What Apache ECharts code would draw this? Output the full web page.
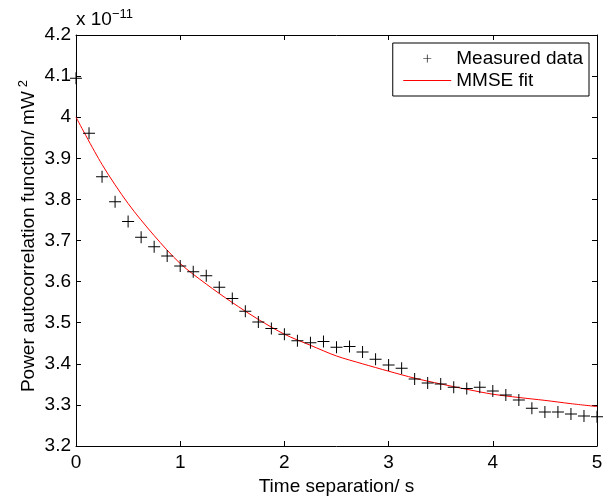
<!DOCTYPE html>
<html>
<head>
<meta charset="utf-8">
<script src="https://cdn.jsdelivr.net/npm/echarts@6/dist/echarts.min.js"></script>
<style>
  html, body { margin: 0; padding: 0; background: #fff; }
  #chart { width: 608px; height: 496px; }
</style>
</head>
<body>
<div id="chart"></div>
<script>
// measured autocorrelation (units of 1e-11 mW^2)
var measuredTime = [0, 0.125, 0.25, 0.375, 0.5, 0.625, 0.75, 0.875, 1, 1.125,
  1.25, 1.375, 1.5, 1.625, 1.75, 1.875, 2, 2.125, 2.25, 2.375,
  2.5, 2.625, 2.75, 2.875, 3, 3.125, 3.25, 3.375, 3.5, 3.625,
  3.75, 3.875, 4, 4.125, 4.25, 4.375, 4.5, 4.625, 4.75, 4.875, 5];
var measuredValue = [4.095, 3.961, 3.855, 3.794, 3.746, 3.708, 3.685, 3.662, 3.638, 3.624,
  3.614, 3.586, 3.559, 3.528, 3.502, 3.486, 3.472, 3.456, 3.451, 3.454,
  3.440, 3.442, 3.429, 3.411, 3.397, 3.389, 3.363, 3.353, 3.351, 3.343,
  3.340, 3.343, 3.334, 3.324, 3.312, 3.292, 3.283, 3.283, 3.278, 3.273, 3.271];

// fitted curve
var fitTime = [0, 0.25, 0.5, 0.75, 1, 1.25, 1.5, 1.75, 2, 2.25, 2.5, 2.75,
  3, 3.25, 3.5, 3.75, 4, 4.25, 4.5, 4.75, 5];
var fitValue = [4.000, 3.885, 3.790, 3.712, 3.644, 3.594, 3.549, 3.508, 3.472, 3.445, 3.419, 3.400,
  3.382, 3.365, 3.351, 3.338, 3.326, 3.318, 3.311, 3.303, 3.296];

var xTicks = { min: 0, max: 5, interval: 1 };
var yTicks = { min: 3.2, max: 4.2, interval: 0.1 };

var FONT = '"Liberation Sans", Arial, Helvetica, sans-serif';
var FS = 19;
var PLUS = 'path://M0,5.5H12V6.5H0Z M5.5,0H6.5V12H5.5Z';

function pairs(xs, ys) {
  return xs.map(function (x, i) { return [x, ys[i]]; });
}

function axisBase(pos, showLabel) {
  return {
    type: 'value',
    position: pos,
    axisLine: { show: true, onZero: false, lineStyle: { color: '#000', width: 1 } },
    axisTick: { show: true, inside: true, length: 5, lineStyle: { color: '#000' } },
    axisLabel: {
      show: showLabel, color: '#000', fontSize: FS, fontFamily: FONT, margin: 7,
      formatter: function (v) { return String(+v.toFixed(1)); }
    },
    splitLine: { show: false }
  };
}

var chart = echarts.init(document.getElementById('chart'));

var xb = axisBase('bottom', true), xt = axisBase('top', false);
var yl = axisBase('left', true), yr = axisBase('right', false);
[xb, xt].forEach(function (a) { Object.assign(a, xTicks); });
[yl, yr].forEach(function (a) { Object.assign(a, yTicks); });
xb.name = 'Time separation/ s';
xb.nameLocation = 'middle';
xb.nameGap = 27;
xb.nameTextStyle = { color: '#000', fontSize: FS, fontFamily: FONT };
yl.axisLabel.margin = 5;

chart.setOption({
  animation: false,
  backgroundColor: '#fff',
  grid: { left: 76, right: 11, top: 35, bottom: 50, outerBoundsMode: 'none' },
  xAxis: [xb, xt],
  yAxis: [yl, yr],
  legend: {
    right: 19, top: 43,
    orient: 'vertical',
    backgroundColor: '#fff',
    borderColor: '#000', borderWidth: 1, borderRadius: 0,
    padding: [6, 6, 6, 10],
    itemWidth: 48, itemHeight: 8, itemGap: 3,
    textStyle: { color: '#000', fontSize: FS, fontFamily: FONT },
    data: [
      { name: 'Measured data' },
      { name: 'MMSE fit', itemStyle: { opacity: 0 }, lineStyle: { width: 1 } }
    ]
  },
  graphic: [
    {
      type: 'text', left: 76, top: 8,
      style: {
        text: '{a|x 10}{s|\u221211}',
        fill: '#000',
        rich: {
          a: { fontSize: FS, fontFamily: FONT, lineHeight: 24, verticalAlign: 'middle', fill: '#000' },
          s: { fontSize: 13, fontFamily: FONT, lineHeight: 12, verticalAlign: 'top', fill: '#000' }
        }
      }
    },
    {
      type: 'text', x: 29, y: 236, rotation: Math.PI / 2,
      style: {
        text: '{a|Power autocorrelation function/ mW}{s|2}',
        x: 0, y: 0, align: 'center', verticalAlign: 'middle',
        fill: '#000',
        rich: {
          a: { fontSize: FS, fontFamily: FONT, lineHeight: 24, verticalAlign: 'middle', fill: '#000' },
          s: { fontSize: 13, fontFamily: FONT, lineHeight: 12, verticalAlign: 'top', fill: '#000', padding: [0, 0, 0, 4] }
        }
      }
    }
  ],
  series: [
    {
      name: 'Measured data',
      type: 'scatter',
      symbol: PLUS,
      symbolSize: 12,
      itemStyle: { color: '#000', opacity: 1 },
      data: pairs(measuredTime, measuredValue),
      z: 3
    },
    {
      name: 'MMSE fit',
      type: 'line',
      symbol: 'none',
      smooth: 0.3,
      lineStyle: { color: '#ff0000', width: 1 },
      itemStyle: { color: '#ff0000' },
      data: pairs(fitTime, fitValue),
      z: 2
    }
  ]
});
</script>
</body>
</html>
